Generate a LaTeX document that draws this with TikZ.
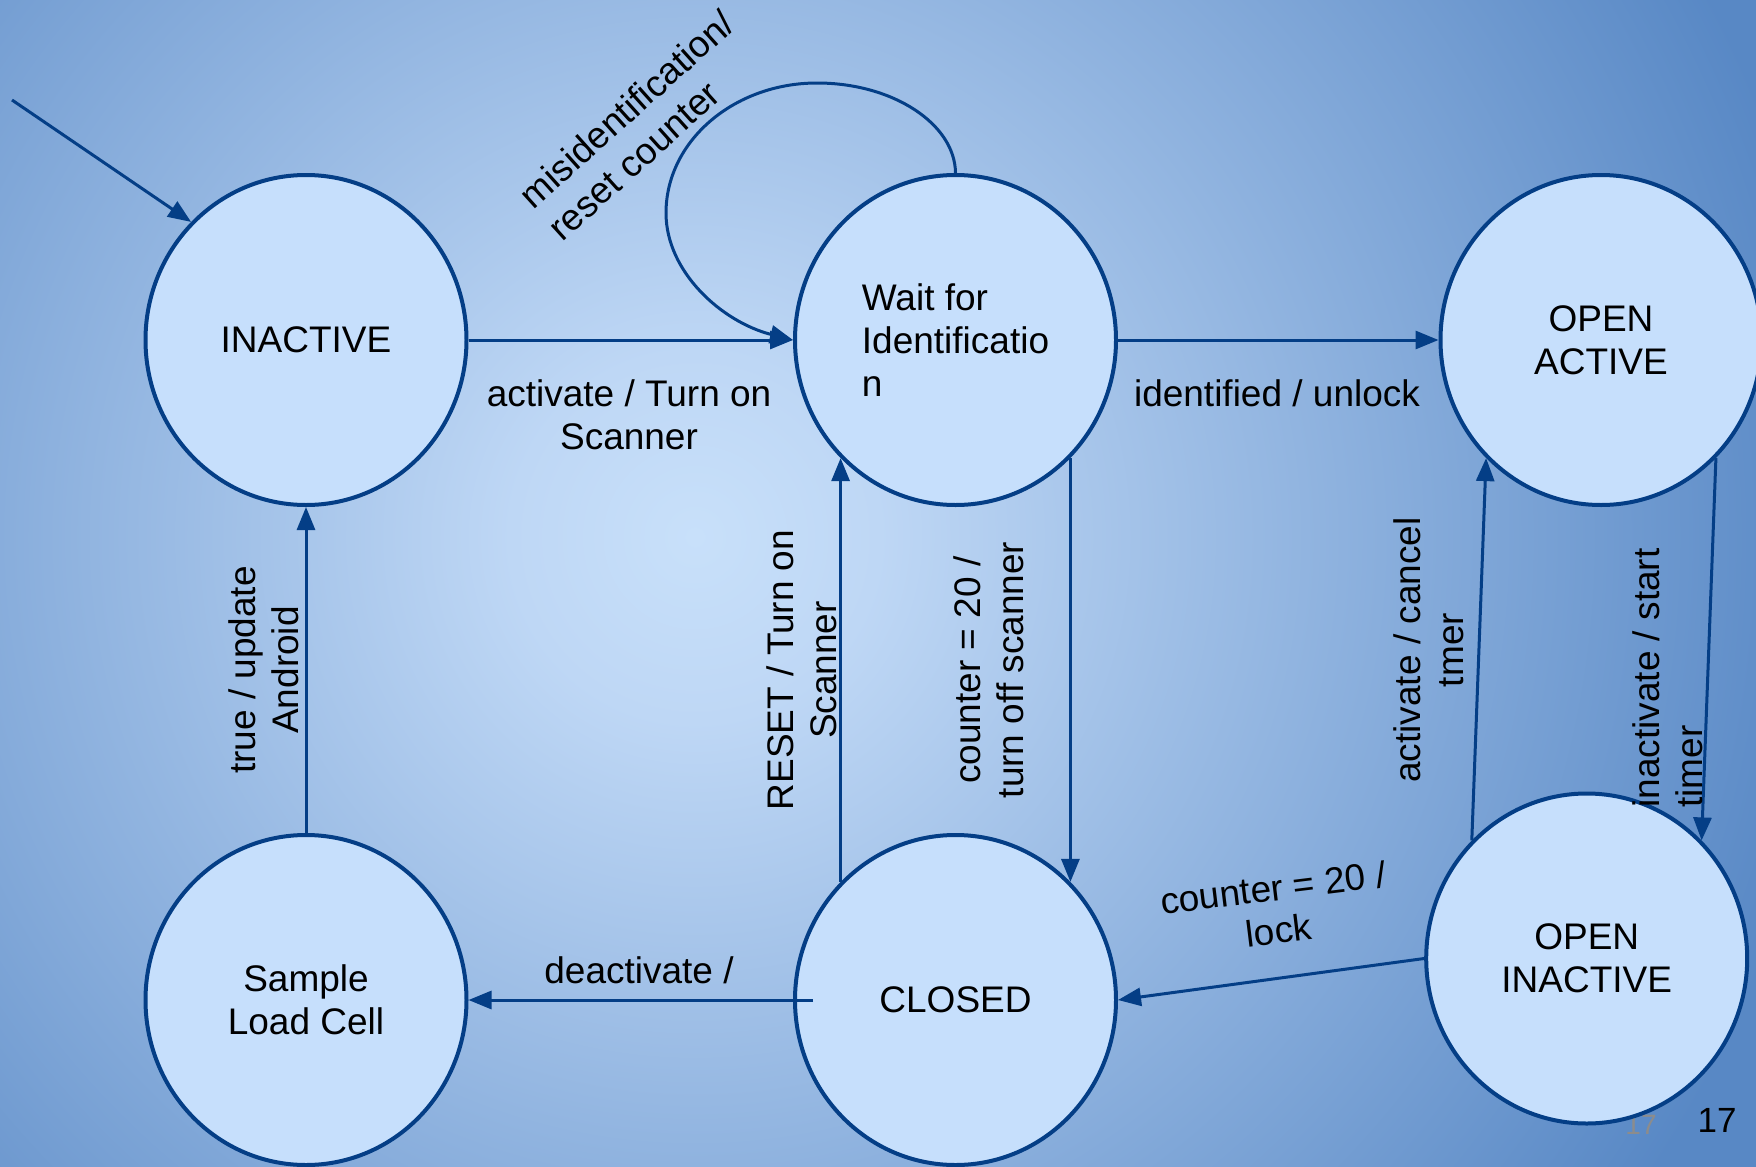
\documentclass[tikz,border=0pt]{standalone}
\usepackage{fontspec}
\setmainfont{Liberation Sans}
\usetikzlibrary{arrows.meta,shapes.geometric}
\definecolor{edgeblue}{RGB}{4,62,134}
\definecolor{statefill}{RGB}{198,223,252}
\definecolor{bgin}{RGB}{200,224,250}
\definecolor{bgmid}{RGB}{190,215,245}
\definecolor{bgout}{RGB}{88,136,197}
\definecolor{pggray}{RGB}{140,140,140}
\pgfdeclareradialshading{bgshade}{\pgfpoint{0bp}{0bp}}{color(0bp)=(bgin); color(4bp)=(bgmid); color(25bp)=(bgout); color(50bp)=(bgout)}
\tikzset{
  state/.style={ellipse, draw=edgeblue, line width=2pt, fill=statefill,
    minimum width=160.5pt, minimum height=165pt, inner sep=0pt, align=center,
    font=\fontsize{18.5}{21.5}\selectfont},
  conn/.style={draw=edgeblue, line width=1.5pt, -{Triangle[length=11.5pt,width=9pt]}},
  lbl/.style={font=\fontsize{18.5}{21.5}\selectfont, inner sep=0pt, align=center},
}
\begin{document}
\begin{tikzpicture}[x=0.5pt,y=-0.5pt]
\useasboundingbox (0,0) rectangle (1756,1167);
\begin{scope}
  \clip (0,0) rectangle (1756,1167);
  \fill[bgout] (0,0) rectangle (1756,1167);
  \shade[shading=bgshade] (695,537) circle (1150);
\end{scope}
\node[font=\fontsize{14}{16}\selectfont, text=pggray, inner sep=0pt] (pgb) at (1641,1125) {17};
% states
\node[state] (inactive) at (306,340) {INACTIVE};
\node[state, align=left] (wait) at (955.5,340) {Wait for\\Identificatio\\n};
\node[state] (openact) at (1601,340) {OPEN\\ACTIVE};
\node[state] (sample) at (306,1000) {Sample\\Load Cell};
\node[state] (closed) at (955.5,1000) {CLOSED};
\node[state] (openinact) at (1586.7,958.5) {OPEN\\INACTIVE};
% connectors
\coordinate (init) at (12,100);
\draw[conn] (init) -- (inactive.north west);
\draw[conn] (inactive.east) -- (wait.west);
\draw[conn] (wait.east) -- (openact.west);
\draw[conn] (wait.north) .. controls (955,124) and (893,83) .. (817,83)
  .. controls (734,83) and (666,141) .. (666,213)
  .. controls (666,272) and (722,322) .. (wait.west);
\draw[conn] (sample.north) -- (inactive.south);
\draw[conn] (closed.north west) -- (wait.south west);
\draw[conn] (wait.south east) -- (closed.north east);
\draw[conn] (openinact.north west) -- (openact.south west);
\draw[conn] (openact.south east) -- (openinact.north east);
\draw[conn] (openinact.west) -- (closed.east);
\coordinate (dstart) at (813,1000);
\draw[conn] (dstart) -- (sample.east);
% labels
\node[lbl] (l1) at (629,415) {activate / Turn on\\Scanner};
\node[lbl] (l2) at (1277,393) {identified / unlock};
\node[lbl, rotate=42, align=left] (l3) at (641,125) {misidentification/\\reset counter};
\node[lbl, rotate=90] (l4) at (264,670) {true / update\\Android};
\node[lbl, rotate=90] (l5) at (802,670) {RESET / Turn on\\Scanner};
\node[lbl, rotate=90] (l6) at (989,670) {counter = 20 /\\turn off scanner};
\node[lbl, rotate=90] (l7) at (1429,650) {activate / cancel\\tmer};
\node[lbl, rotate=90, align=left] (l8) at (1668,678) {inactivate / start\\timer};
\node[lbl, rotate=7] (l9) at (1276,909) {counter = 20 /\\lock};
\node[lbl] (l10) at (639,970) {deactivate /};
\node[font=\fontsize{17.5}{20}\selectfont, inner sep=0pt] (pg) at (1717,1120) {17};
\end{tikzpicture}
\end{document}
